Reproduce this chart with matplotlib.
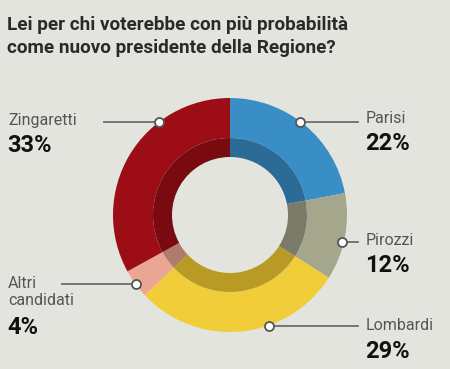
import matplotlib.pyplot as plt

names = ['Parisi', 'Pirozzi', 'Lombardi', 'Altri\ncandidati', 'Zingaretti']
shares = [22, 12, 29, 4, 33]
outer_colors = ['#3a8ec6', '#a4a78c', '#f1cd3a', '#eaa692', '#9c0d15']
inner_colors = ['#2c6b96', '#7a7b69', '#b89a25', '#b07b6b', '#780a10']

W, H = 450, 369
bg = '#e3e4de'
cx, cy = 230, H - 215

fig = plt.figure(figsize=(4.5, 3.69), dpi=100, facecolor=bg)
ax = fig.add_axes([0, 0, 1, 1])
ax.set_facecolor(bg)

ax.pie(shares, colors=outer_colors, radius=117, center=(cx, cy), startangle=90,
       counterclock=False, wedgeprops=dict(width=40, linewidth=0))
ax.pie(shares, colors=inner_colors, radius=77, center=(cx, cy), startangle=90,
       counterclock=False, wedgeprops=dict(width=19, linewidth=0))

ax.set_xlim(0, W)
ax.set_ylim(0, H)
ax.set_aspect('auto')
ax.axis('off')

tfont = 'Roboto'
fig.text(7 / W, 1 - 25 / H, 'Lei per chi voterebbe con più probabilità',
         fontsize=13.6, fontweight='bold', color='#2a2a2a', family=tfont, va='center')
fig.text(7 / W, 1 - 48 / H, 'come nuovo presidente della Regione?',
         fontsize=13.6, fontweight='bold', color='#2a2a2a', family=tfont, va='center')

# leader lines: (marker x, marker y, line end x, label x, label y)
leaders = [
    (300, 122, 358, 366, 118),
    (342, 242, 358, 366, 240),
    (269, 326, 358, 366, 325),
    (136, 284, 62, 8, 283),
    (159, 122, 104, 8, 120),
]
for (mx, my, ex, lx, ly), name, val in zip(leaders, names, shares):
    ax.plot([mx, ex], [H - my, H - my], color='#6d6e6a', lw=1.3, zorder=3)
    ax.plot(mx, H - my, 'o', ms=6.5, mfc='white', mec='#555555', mew=1.3, zorder=4)
    nlines = name.count('\n')
    ax.text(lx, H - (ly - 7), name, fontsize=11.5, color='#555555', family=tfont,
            va='top', ha='left', linespacing=1.2)
    ax.text(lx - 1, H - (ly + 26 + nlines * 19), f'{val}%', fontsize=17, fontweight='bold',
            color='#111111', family=tfont, va='center', ha='left')

fig.savefig('out.png', dpi=100, facecolor=bg)
